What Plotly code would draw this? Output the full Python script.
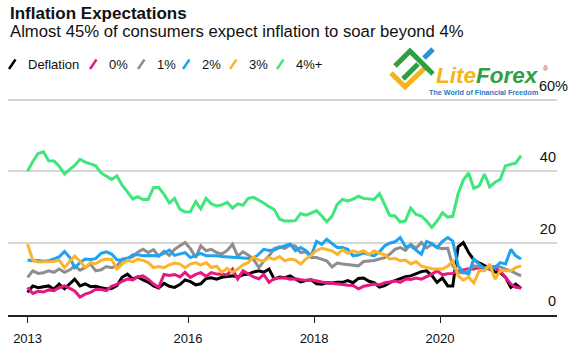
import pandas as pd
import plotly.graph_objects as go

# ---------------- data (monthly, Jun 2013 - Apr 2021, % of respondents) ----------------
dates = pd.date_range("2013-06-01", periods=95, freq="MS") + pd.Timedelta(days=14)

series_names = ["Deflation", "0%", "1%", "2%", "3%", "4%+"]
series_colors = ["#000000", "#e8167f", "#8e8e8e", "#1fa2f0", "#fbb42c", "#3fe67c"]

deflation = [6.3, 8.1, 7.6, 7.9, 8.1, 7.2, 8.6, 7.3, 8.8, 10.0,
             8.1, 8.7, 7.9, 8.0, 7.6, 7.3, 7.4, 8.2, 10.5, 11.4,
             10.0, 10.6, 9.8, 9.2, 8.1, 7.5, 8.8, 8.0, 7.7, 8.5,
             9.8, 9.3, 8.4, 8.7, 10.2, 10.4, 10.0, 10.5, 10.7, 10.9,
             10.6, 11.2, 11.4, 12.0, 12.3, 11.9, 12.8, 10.0, 10.6, 10.4,
             10.9, 10.0, 9.2, 9.6, 9.8, 8.7, 8.6, 9.0, 8.9, 9.1,
             9.1, 9.6, 9.0, 10.2, 10.3, 9.4, 9.0, 7.8, 8.2, 9.0,
             9.5, 10.0, 10.7, 10.9, 11.5, 12.1, 12.3, 11.0, 9.1, 10.3,
             8.1, 8.1, 19.0, 20.2, 17.4, 15.4, 14.5, 13.8, 12.8, 12.0,
             11.8, 10.5, 7.7, 8.6, 7.4]

pct0 = [7.7, 6.0, 6.6, 6.4, 7.0, 6.8, 7.6, 8.1, 7.4, 6.7,
        5.0, 5.8, 6.3, 7.2, 7.1, 6.8, 8.0, 8.5, 9.4, 10.0,
        9.8, 10.6, 10.9, 10.0, 8.6, 7.7, 11.3, 11.0, 11.3, 10.6,
        11.9, 10.5, 11.3, 11.8, 10.8, 11.8, 11.4, 11.2, 11.2, 12.8,
        10.0, 12.3, 11.4, 10.6, 10.1, 11.3, 9.1, 10.2, 10.3, 10.4,
        10.0, 10.1, 9.8, 9.6, 9.8, 9.4, 9.2, 9.0, 8.9, 8.8,
        8.5, 8.3, 8.2, 7.3, 8.0, 8.3, 8.6, 8.4, 9.0, 9.2,
        9.5, 9.1, 10.0, 9.9, 10.3, 10.0, 10.6, 11.4, 12.3, 11.2,
        11.5, 11.6, 12.2, 12.6, 12.9, 12.8, 13.2, 13.0, 12.8, 13.0,
        12.2, 10.5, 8.6, 7.7, 7.5]

pct1 = [10.5, 12.3, 11.6, 11.8, 12.3, 11.9, 12.8, 11.9, 12.6, 13.7,
        12.5, 13.2, 14.2, 12.3, 12.6, 13.5, 13.2, 13.6, 15.6, 15.8,
        16.2, 17.5, 18.3, 17.4, 18.2, 16.4, 17.8, 16.6, 18.3, 19.3,
        20.2, 18.5, 16.0, 19.3, 17.9, 18.3, 17.4, 17.0, 18.0, 19.7,
        16.4, 17.6, 16.7, 15.5, 13.2, 15.0, 16.5, 18.5, 19.0, 18.6,
        19.5, 19.2, 17.4, 17.6, 16.0, 16.0, 15.5, 15.1, 13.4, 14.5,
        14.2, 14.0, 13.9, 13.7, 14.9, 15.0, 15.2, 15.6, 16.0, 16.9,
        18.3, 18.8, 18.0, 19.7, 18.6, 20.2, 18.7, 19.7, 18.8, 18.5,
        18.6, 13.7, 11.9, 11.7, 12.5, 13.7, 13.4, 13.2, 13.0, 13.6,
        13.4, 12.8, 12.3, 11.6, 10.9]

pct2 = [15.3, 15.1, 15.2, 15.0, 15.1, 15.6, 16.2, 17.7, 16.0, 13.2,
        14.6, 15.6, 15.5, 15.7, 17.2, 17.6, 17.0, 15.4, 15.3, 15.6,
        16.8, 16.8, 16.5, 16.6, 16.5, 16.5, 17.2, 18.1, 16.6, 17.0,
        17.4, 16.0, 16.6, 17.2, 16.5, 16.6, 16.5, 16.3, 16.2, 16.0,
        16.1, 16.0, 15.9, 15.7, 17.0, 18.3, 18.0, 18.1, 18.8, 19.3,
        19.8, 17.9, 18.8, 17.9, 16.5, 20.5, 19.7, 21.1, 20.0, 18.8,
        18.8, 18.3, 16.5, 16.7, 17.3, 17.0, 16.5, 17.6, 19.3, 20.0,
        20.4, 21.6, 19.0, 19.3, 18.0, 16.9, 20.5, 19.9, 18.8, 20.5,
        21.6, 20.6, 13.7, 11.9, 11.4, 15.6, 14.2, 12.8, 13.7, 13.2,
        14.6, 14.2, 18.3, 16.5, 15.6]

pct3 = [19.7, 15.3, 14.8, 14.8, 14.8, 14.9, 15.3, 13.2, 15.0, 16.4,
        15.0, 13.2, 14.6, 14.3, 15.2, 15.6, 15.5, 12.8, 14.2, 15.3,
        14.8, 15.6, 15.2, 14.6, 13.2, 13.5, 13.2, 14.0, 14.5, 14.2,
        13.2, 14.2, 14.6, 13.9, 14.6, 13.2, 13.6, 11.9, 13.0, 11.9,
        12.8, 14.0, 14.6, 16.2, 15.3, 15.0, 16.0, 15.5, 16.3, 15.1,
        15.6, 15.3, 14.2, 15.6, 16.6, 18.0, 18.6, 18.3, 17.9, 16.9,
        18.2, 17.2, 17.9, 17.4, 17.9, 16.8, 17.9, 17.2, 16.8, 15.6,
        15.8, 15.1, 15.3, 14.2, 14.9, 13.6, 13.2, 12.9, 12.8, 12.8,
        13.6, 15.1, 11.0, 9.7, 10.6, 8.9, 12.3, 12.3, 14.2, 10.0,
        12.3, 12.3, 12.3, 13.2, 13.7]

pct4plus = [40.1, 42.8, 45.0, 45.5, 43.0, 42.9, 41.5, 39.3, 40.6, 41.7,
            43.4, 42.6, 42.1, 41.6, 39.6, 38.8, 37.8, 38.8, 36.2, 34.3,
            32.3, 33.0, 32.2, 32.2, 35.5, 35.6, 33.6, 31.2, 32.5, 29.5,
            28.7, 28.8, 31.6, 29.6, 32.5, 31.0, 30.4, 30.7, 31.4, 29.8,
            31.0, 30.6, 32.5, 32.8, 32.0, 31.2, 30.2, 29.4, 26.7, 26.2,
            26.2, 26.3, 28.3, 27.8, 28.4, 29.1, 27.6, 26.0, 27.5, 30.8,
            32.2, 31.8, 32.3, 33.1, 32.5, 32.3, 32.2, 33.8, 30.6, 27.8,
            27.6, 25.9, 26.3, 29.8, 28.0, 27.6, 26.2, 24.4, 26.2, 28.5,
            27.3, 27.5, 33.8, 37.6, 39.6, 35.3, 36.0, 39.3, 35.7, 37.0,
            37.8, 41.6, 42.0, 42.3, 44.4]

series_values = [deflation, pct0, pct1, pct2, pct3, pct4plus]

x_tick_vals = [dates[0], pd.Timestamp("2016-01-01"), pd.Timestamp("2018-01-01"), pd.Timestamp("2020-01-01")]
x_tick_text = ["2013", "2016", "2018", "2020"]
y_tick_vals = [0, 20, 40]
y_tick_text = ["0", "20", "40"]
y_top_val, y_top_text = 60, "60%"

# ---------------- layout geometry (pixels) ----------------
W, H = 587, 354
ML, MR, MT, MB = 8, 30, 66, 37
PW, PH = W - ML - MR, H - MT - MB
FONT = "Liberation Sans, Arial, sans-serif"
PX_PER_UNIT = 217 / 60          # 0 at y=317, 60 at y=100
Y_MAX = PH / PX_PER_UNIT


def px(xp):
    return (xp - ML) / PW


def py(yp):
    return (H - MB - yp) / PH


# x range: 63 px per year, Jan 2016 at x=188
def x_at(pix):
    return pd.Timestamp("2016-01-01") + pd.Timedelta(days=(pix - 188) / 63 * 365.25)


fig = go.Figure()
for name, vals, col in zip(series_names, series_values, series_colors):
    fig.add_trace(go.Scatter(x=dates, y=vals, mode="lines", name=name,
                             line=dict(color=col, width=3), showlegend=False))
# helper trace for the secondary axis carrying the top label
fig.add_trace(go.Scatter(x=[dates[0]], y=[None], yaxis="y2", showlegend=False,
                         hoverinfo="skip", mode="lines"))

fig.update_layout(
    width=W, height=H,
    margin=dict(l=ML, r=MR, t=MT, b=MB),
    paper_bgcolor="white", plot_bgcolor="white",
    font=dict(family=FONT, color="#111111"),
    xaxis=dict(range=[x_at(ML), x_at(ML + PW)], showgrid=False, zeroline=False,
               showline=True, linecolor="#222222", linewidth=1.5,
               ticks="outside", ticklen=6, tickwidth=1.2, tickcolor="#222222",
               tickvals=x_tick_vals, ticktext=x_tick_text, ticklabelstandoff=5,
               tickfont=dict(size=13, color="#111111")),
    yaxis=dict(range=[0, Y_MAX], side="right", showgrid=True, gridcolor="#d6d6d6", gridwidth=1.5,
               zeroline=False, showline=False, ticks="",
               tickvals=y_tick_vals + [y_top_val], ticktext=y_tick_text + [""],
               ticklabelposition="inside top", ticklabelstandoff=-2, ticklabelshift=-4,
               tickfont=dict(size=14.5, color="#111111")),
    yaxis2=dict(range=[0, Y_MAX], overlaying="y", side="right", showgrid=False, zeroline=False,
                showline=False, ticks="", tickvals=[y_top_val], ticktext=[y_top_text],
                ticklabelposition="inside top", ticklabelstandoff=-14, ticklabelshift=-4,
                tickfont=dict(size=14.5, color="#111111")),
    showlegend=False,
)

ann = []
ann.append(dict(text="<b>Inflation Expectations</b>", x=px(8), y=py(13), xanchor="left", yanchor="middle",
                font=dict(size=17, color="#111111", family=FONT)))
ann.append(dict(text="Almost 45% of consumers expect inflation to soar beyond 4%", x=px(8), y=py(31.5),
                xanchor="left", yanchor="middle", font=dict(size=16.7, color="#111111", family=FONT)))

# legend built from series names / colours
leg_sym_x = [8, 89, 137, 182, 229, 276]
shapes = []
for name, col, sx in zip(series_names, series_colors, leg_sym_x):
    shapes.append(dict(type="line", xref="paper", yref="paper", x0=px(sx + 1), y0=py(69),
                       x1=px(sx + 7.5), y1=py(59.5), line=dict(color=col, width=2.5)))
    ann.append(dict(text=name, x=px(sx + 18), y=py(64.5), xanchor="left", yanchor="middle",
                    font=dict(size=13, color="#111111", family=FONT)))


# watermark logo
def path(points):
    return "M " + " L ".join(f"{px(a):.5f},{py(b):.5f}" for a, b in points)


shapes.append(dict(type="path", xref="paper", yref="paper", path=path([(391, 73), (405, 87), (427, 66)]),
                   line=dict(color="#f6b31c", width=5)))
shapes.append(dict(type="path", xref="paper", yref="paper", path=path([(395, 66), (410, 51), (433, 74)]),
                   line=dict(color="#2f9f3f", width=5)))
shapes.append(dict(type="path", xref="paper", yref="paper", path=path([(403, 79), (418, 64)]),
                   line=dict(color="#2f9f3f", width=5)))
shapes.append(dict(type="path", xref="paper", yref="paper", path=path([(424, 58), (433, 49)]),
                   line=dict(color="#2d8fd6", width=5)))
ann.append(dict(text="<b><i><span style='color:#f6b31c'>Lite</span><span style='color:#2f9f3f'>Forex</span></i></b>",
                x=px(434), y=py(76), xanchor="left", yanchor="middle",
                font=dict(size=22.5, family=FONT)))
ann.append(dict(text="®", x=px(541), y=py(69), xanchor="left", yanchor="middle",
                font=dict(size=7, color="#d9262c", family=FONT)))
ann.append(dict(text="<b>The World of Financial Freedom</b>", x=px(427), y=py(93), xanchor="left",
                yanchor="middle", font=dict(size=7.2, color="#1f7bc4", family=FONT)))

for a in ann:
    a.update(xref="paper", yref="paper", showarrow=False)
fig.update_layout(annotations=ann, shapes=shapes)

fig.write_html("out.html")
